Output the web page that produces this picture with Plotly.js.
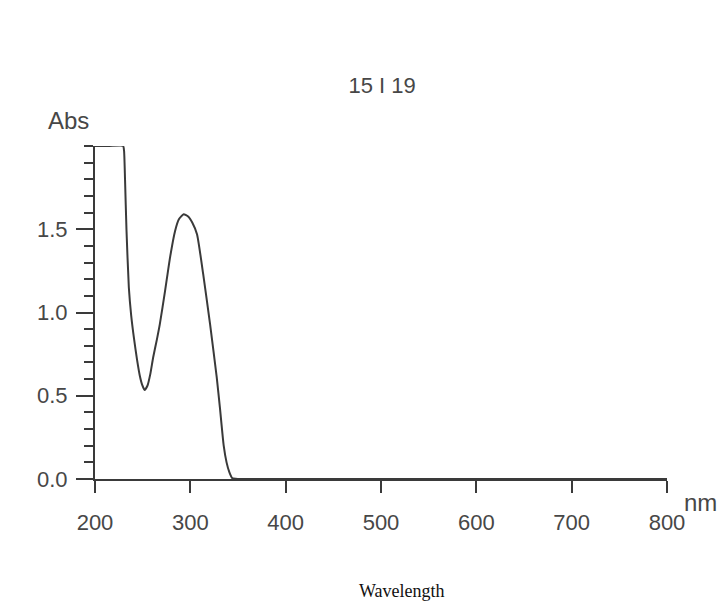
<!DOCTYPE html>
<html>
<head>
<meta charset="utf-8">
<script src="https://cdn.plot.ly/plotly-3.0.1.min.js"></script>
<style>html,body{margin:0;padding:0;background:#fff;}#chart{width:718px;height:602px;}</style>
</head>
<body>
<div id="chart"></div>
<script>
// Data (wavelength in nm, absorbance)
var wavelength = [200, 215, 229.5, 230.5, 231.5, 233, 235.5, 238, 241, 244, 247, 249.5, 252, 255, 258, 261, 265, 268, 273.5, 278.7, 284, 288, 293, 298, 302, 307, 313.5, 320.7, 327.7, 331, 335, 338, 341, 344, 350, 400, 500, 600, 700, 800];
var absorbance = [2.0, 2.0, 2.0, 1.97, 1.8, 1.5, 1.15, 0.98, 0.84, 0.72, 0.62, 0.565, 0.535, 0.56, 0.63, 0.73, 0.84, 0.93, 1.13, 1.33, 1.49, 1.56, 1.59, 1.575, 1.54, 1.47, 1.23, 0.93, 0.61, 0.43, 0.2, 0.1, 0.04, 0.005, 0, 0, 0, 0, 0, 0];
var xTicks = [200, 300, 400, 500, 600, 700, 800];
var yTicks = [0.0, 0.5, 1.0, 1.5];
var titleText = "15 I 19";
var yLabel = "Abs";
var xUnit = "nm";
var xLabel = "Wavelength";

var axisColor = "#3a3a3a";
var textColor = "#474747";
var sansFont = "Liberation Sans, Arial, sans-serif";

var trace = {
  x: wavelength,
  y: absorbance,
  type: "scatter",
  mode: "lines",
  line: {color: "#3a3a3a", width: 2, shape: "spline", smoothing: 0.5},
  hoverinfo: "x+y",
  showlegend: false
};

var layout = {
  width: 718,
  height: 602,
  paper_bgcolor: "#ffffff",
  plot_bgcolor: "#ffffff",
  margin: {l: 95, r: 51, t: 146, b: 123},
  title: {
    text: titleText,
    font: {family: sansFont, size: 22, color: textColor},
    x: 0.502, xref: "paper", xanchor: "center",
    y: 1 - 85/602, yref: "container", yanchor: "middle"
  },
  xaxis: {
    range: [200, 800],
    tickvals: xTicks,
    ticktext: xTicks.map(String),
    showgrid: false, zeroline: false,
    showline: true, linecolor: axisColor, linewidth: 2,
    ticks: "outside", ticklen: 12, tickwidth: 2, tickcolor: axisColor,
    ticklabelstandoff: 11,
    tickfont: {family: sansFont, size: 22, color: textColor},
    fixedrange: true
  },
  yaxis: {
    range: [0, 2.0],
    tickvals: yTicks,
    ticktext: yTicks.map(function(v){return v.toFixed(1);}),
    showgrid: false, zeroline: false,
    showline: true, linecolor: axisColor, linewidth: 2,
    ticks: "outside", ticklen: 17, tickwidth: 2, tickcolor: axisColor,
    ticklabelstandoff: 4,
    minor: {dtick: 0.1, ticks: "outside", ticklen: 9, tickwidth: 2, tickcolor: axisColor, showgrid: false},
    tickfont: {family: sansFont, size: 22, color: textColor},
    fixedrange: true
  },
  annotations: [
    {text: yLabel, xref: "paper", yref: "paper", x: -0.047, y: 1.078, xanchor: "center", yanchor: "middle",
     showarrow: false, font: {family: sansFont, size: 24, color: textColor}},
    {text: xUnit, xref: "paper", yref: "paper", x: 1.058, y: -0.072, xanchor: "center", yanchor: "middle",
     showarrow: false, font: {family: sansFont, size: 24, color: textColor}},
    {text: xLabel, xref: "paper", yref: "paper", x: 0.537, y: -0.335, xanchor: "center", yanchor: "middle",
     showarrow: false, font: {family: "Liberation Serif, Times New Roman, serif", size: 18, color: "#111111"}}
  ]
};

Plotly.newPlot("chart", [trace], layout, {displayModeBar: false, staticPlot: true});
</script>
</body>
</html>
